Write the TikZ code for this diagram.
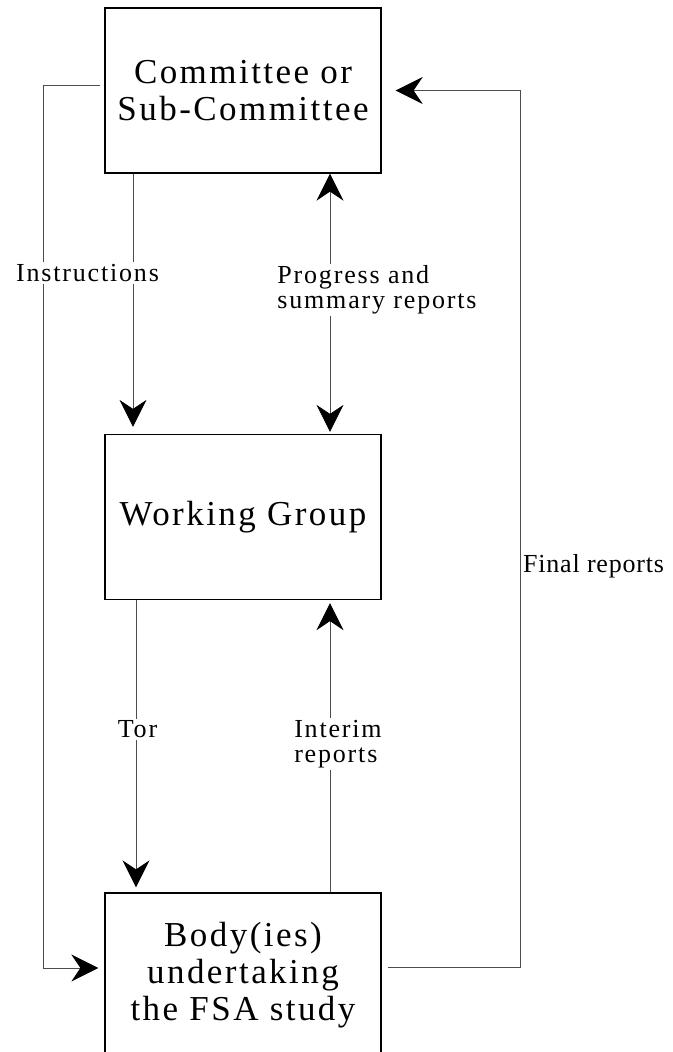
\documentclass[tikz,border=0pt]{standalone}
\usepackage{fontspec}
\setmainfont{Liberation Serif}
\newfontfamily\boxfont[LetterSpace=7]{Liberation Serif}
\newfontfamily\labfont[LetterSpace=7]{Liberation Serif}
\newfontfamily\edgefont[LetterSpace=3]{Liberation Serif}
\usetikzlibrary{arrows.meta}

\tikzset{
  >={Stealth[color=black,length=27pt,width=27pt,inset=9pt]},
  stage/.style={draw, line width=1.3pt, minimum width=276pt, minimum height=165pt,
    align=center, font=\boxfont\fontsize{35}{37}\selectfont},
  flow/.style={draw=black!70, line width=0.9pt, ->},
  lab/.style={fill=white, inner sep=2pt, align=left, font=\labfont\fontsize{26}{25}\selectfont},
}

\begin{document}
\begin{tikzpicture}[x=1pt,y=-1pt]
\useasboundingbox (0,0) rectangle (672,1052);
% the three levels
\node[stage] (cmte) at (243,90.5) {Committee or\\Sub-Committee};
\node[stage] (wgrp) at (243,517) {Working Group};
\node[stage] (body) at (243,975.5) {Body(ies)\\undertaking\\the FSA study};

% vertical links
\draw[flow] ([xshift=-110pt]cmte.south) -- ([xshift=-110pt,yshift=7pt]wgrp.north);
\draw[flow,<->] ([xshift=87pt]cmte.south) -- ([xshift=87pt,yshift=2pt]wgrp.north);
\draw[flow] ([xshift=-107pt]wgrp.south) -- ([xshift=-107pt,yshift=5pt]body.north);
\draw[flow] ([xshift=87pt]body.north) -- ([xshift=87pt,yshift=-3pt]wgrp.south);

% outer loops
\draw[flow] ([xshift=-4pt,yshift=5pt]cmte.west) -- ++(-57,0) |- ([xshift=-6pt,yshift=7.5pt]body.west);
\draw[flow] ([xshift=6pt,yshift=8.5pt]body.east) -- ++(133,0) |- ([xshift=14pt]cmte.east);

% labels
\node[lab] (instr) at (87.5,273) {Instructions};
\node[lab] (prog) at (377,290) {Progress and\\summary reports};
\node[lab] (tor) at (137.5,729.5) {Tor};
\node[lab] (interim) at (338,744) {Interim\\reports};
\node[lab,anchor=west,font=\edgefont\fontsize{26}{25}\selectfont] (final) at (521,566) {Final reports};
\end{tikzpicture}
\end{document}
